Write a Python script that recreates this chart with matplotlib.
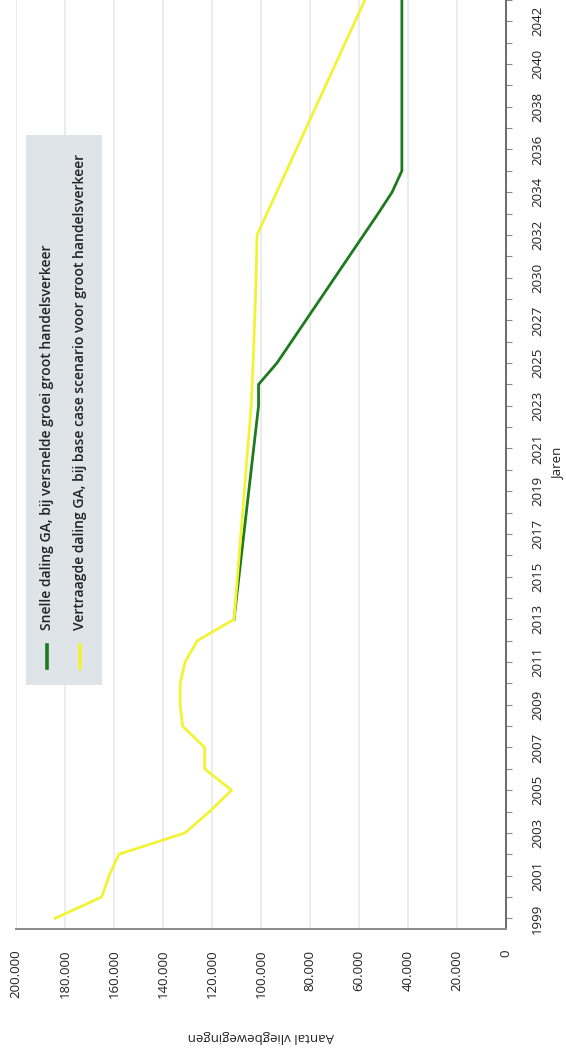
import numpy as np
import matplotlib
matplotlib.use("Agg")
import matplotlib.pyplot as plt
from matplotlib.patches import Rectangle
from matplotlib.lines import Line2D

# ---------------- data ----------------
years = [str(y) for y in range(1999, 2029)] + [str(y) for y in range(2030, 2044)]

# base case (yellow)
vertraagd = [184000, 165000, 162000, 158000, 131000, 121000, 112000, 123000,
             123000, 132000, 133000, 133000, 131000, 126000, 111000, 110300,
             109600, 108900, 108200, 107500, 106800, 106100, 105400, 104700,
             104000, 103600, 103200, 102900, 102600, 102300, 102000, 101800,
             101600, 97600, 93600, 89600, 85600, 81600, 77600, 73600,
             69600, 65600, 61600, 57600]

# fast decline (green) - starts in 2013
snel = [None] * 14 + [111000, 110000, 109000, 108000, 107000, 106000, 105000,
                      104000, 103000, 102000, 101000, 101000, 93500, 87600,
                      81700, 75800, 69900, 64000, 58100, 52200, 46500, 42500,
                      42500, 42500, 42500, 42500, 42500, 42500, 42500, 42500]

value_ticks = [0, 20000, 40000, 60000, 80000, 100000, 120000, 140000, 160000, 180000, 200000]
value_labels = ["0", "20.000", "40.000", "60.000", "80.000", "100.000",
                "120.000", "140.000", "160.000", "180.000", "200.000"]

series_names = ["Snelle daling GA, bij versnelde groei groot handelsverkeer",
                "Vertraagde daling GA, bij base case scenario voor groot handelsverkeer"]
x_title = "Jaren"
y_title = "Aantal vliegbewegingen"

# ---------------- style ----------------
plt.rcParams["font.family"] = ["Open Sans", "DejaVu Sans"]
W, H = 566, 1056
GREEN = "#1d7a1d"
YELLOW = "#f3f335"

fig = plt.figure(figsize=(W / 100, H / 100), dpi=100)
fig.patch.set_facecolor("white")

def fx(px):
    return px / W

def fy(py):
    return 1 - py / H

ax = fig.add_axes([fx(16), fy(929), fx(506) - fx(16), 1 - fy(929)])
idx = np.arange(len(years))

snel_arr = np.array([np.nan if v is None else v for v in snel], dtype=float)
vert_arr = np.array(vertraagd, dtype=float)

ax.plot(snel_arr, idx, color=GREEN, lw=2.0, solid_joinstyle="round", zorder=3)
ax.plot(vert_arr, idx, color=YELLOW, lw=2.0, solid_joinstyle="round", zorder=4)

ax.set_xlim(200000, 0)
ax.set_ylim(-0.5, 42.85)

ax.set_xticks(value_ticks)
ax.set_xticklabels(value_labels, rotation=90, fontsize=9.5, color="#222222")
ax.tick_params(axis="x", length=0, pad=15)

ax.yaxis.tick_right()
ax.set_yticks(idx)
ax.set_yticklabels([y if i % 2 == 0 else "" for i, y in enumerate(years)],
                   rotation=90, va="center", fontsize=9.5, color="#222222")
ax.tick_params(axis="y", length=4, width=0.8, color="#888888", pad=14, direction="out")

ax.grid(axis="x", color="#e9e9e9", lw=1.2, zorder=0)
ax.grid(axis="y", visible=False)
for s in ["top", "left"]:
    ax.spines[s].set_visible(False)
ax.spines["bottom"].set_color("#8a8a8a")
ax.spines["bottom"].set_linewidth(1.4)
ax.spines["right"].set_color("#6a6a6a")
ax.spines["right"].set_linewidth(1.4)

# axis titles (rotated page)
fig.text(fx(558), fy(464), x_title, rotation=90, ha="center", va="center",
         fontsize=9.5, color="#222222")
fig.text(fx(261), fy(1037), y_title, rotation=180, ha="center", va="center",
         fontsize=9.5, color="#222222")

# manual rotated legend
fig.patches.append(Rectangle((fx(26), fy(685)), fx(102) - fx(26), fy(135) - fy(685),
                             transform=fig.transFigure, facecolor="#dfe4e9",
                             edgecolor="none", zorder=5))
for xc, col, name in [(47, GREEN, series_names[0]), (80, YELLOW, series_names[1])]:
    fig.lines.append(Line2D([fx(xc), fx(xc)], [fy(668), fy(645)], transform=fig.transFigure,
                            color=col, lw=2.6, zorder=6))
    fig.text(fx(xc), fy(630), name, rotation=90, rotation_mode="anchor",
             ha="left", va="center", fontsize=10, fontweight="semibold",
             color="#222222", zorder=7)

fig.savefig("out.png", dpi=100, facecolor="white")
